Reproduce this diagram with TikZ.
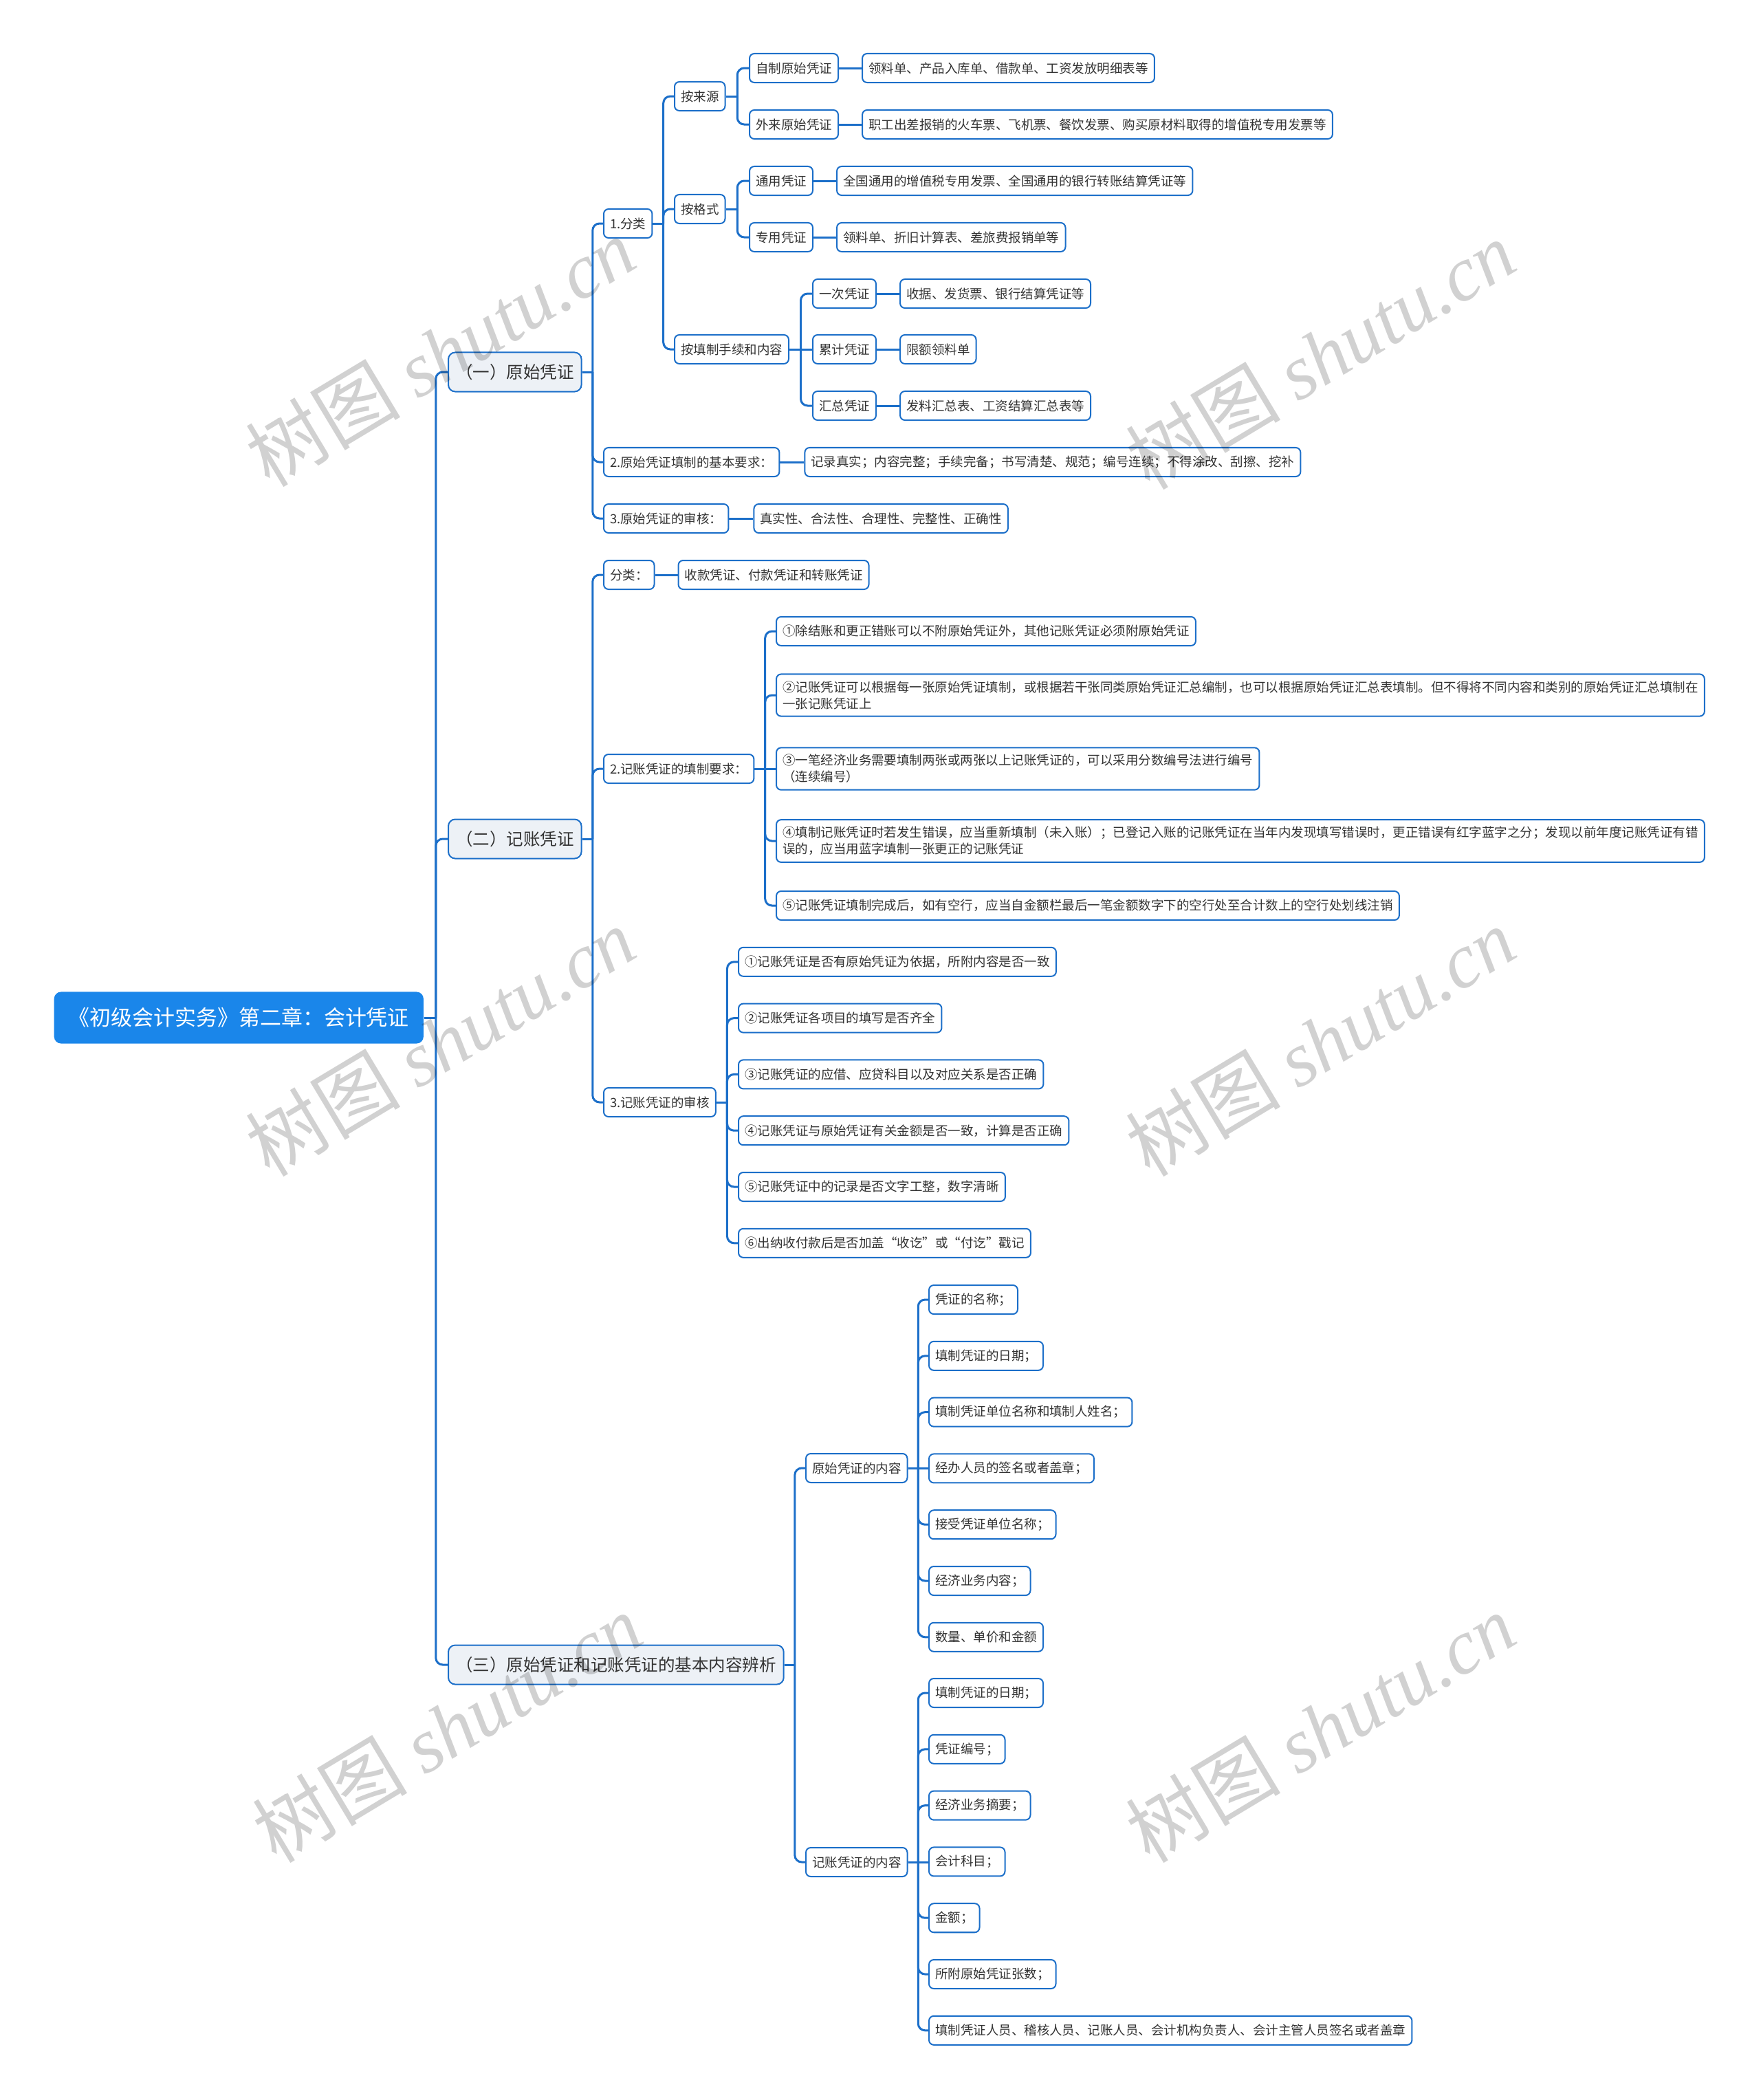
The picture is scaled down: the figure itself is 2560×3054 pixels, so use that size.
\documentclass[tikz,border=0pt]{standalone}
\usepackage{fontspec}
\setmainfont{Noto Sans CJK SC}
\newfontfamily\wmfont{Liberation Serif}
\usepackage{xcolor}
\usepackage{tikz}
\usetikzlibrary{positioning, calc}

\definecolor{lineblue}{HTML}{1C6FC9}
\definecolor{rootblue}{HTML}{1A86EA}
\definecolor{topicgray}{HTML}{EDF1F6}
\definecolor{inkgray}{HTML}{333333}

% elbow connector: parent east -> bus -> child west
\newcommand{\linkto}[2]{%
  \draw[branch, sharp corners] (#1.east) -- ($(#1.east)!.5!(#1.east -| #2.west)$);
  \draw[branch] ($(#1.east)!.5!(#1.east -| #2.west)$) |- (#2.west);}
% straight connector for a child on the parent's level
\newcommand{\leafto}[2]{\draw[branch] (#1.east) -- (#2.west);}

\begin{document}
\begin{tikzpicture}[
    x=0.01cm, y=-0.01cm,
    box/.style={rectangle, rounded corners=0.07cm, draw=lineblue, line width=0.02cm, fill=white, text=inkgray, font=\fontsize{5.26}{6.8}\selectfont, minimum height=0.42cm, inner xsep=0.09cm, inner ysep=0.1cm, align=left, anchor=west},
    topic/.style={box, fill=topicgray, font=\fontsize{6.97}{8.5}\selectfont, minimum height=0.57cm, inner xsep=0.11cm, rounded corners=0.1cm},
    root/.style={rectangle, rounded corners=0.1cm, fill=rootblue, text=white, font=\fontsize{8.8}{10}\selectfont, minimum height=0.75cm, inner xsep=0.21cm, anchor=west},
    branch/.style={draw=lineblue, line width=0.03cm, rounded corners=0.1cm},
    watermark/.style={rotate=31, text=black, opacity=0.18, font=\fontsize{32}{36}\selectfont}
]
\useasboundingbox (0,0) rectangle (2560,3054);

% Root
\node[root] (root) at (78,1480) {《初级会计实务》第二章：会计凭证};

% (一) 原始凭证
\node[topic] (orig) at (651,541) {（一）原始凭证};
\linkto{root}{orig}

\node[box] (cls) at (877,325) {1.分类};
\node[box] (req) at (877,672) {2.原始凭证填制的基本要求：};
\node[box] (aud) at (877,754) {3.原始凭证的审核：};
\linkto{orig}{cls}
\linkto{orig}{req}
\linkto{orig}{aud}

\node[box, right=0.35cm of req] (reqx) {记录真实；内容完整；手续完备；书写清楚、规范；编号连续；不得涂改、刮擦、挖补};
\node[box, right=0.35cm of aud] (audx) {真实性、合法性、合理性、完整性、正确性};
\leafto{req}{reqx}
\leafto{aud}{audx}

\node[box] (src) at (980,140) {按来源};
\node[box] (fmt) at (980,304) {按格式};
\node[box] (proc) at (980,508) {按填制手续和内容};
\linkto{cls}{src}
\linkto{cls}{fmt}
\linkto{cls}{proc}

\node[box] (self) at (1089,99) {自制原始凭证};
\node[box] (ext) at (1089,181) {外来原始凭证};
\node[box] (gen) at (1089,263) {通用凭证};
\node[box] (spec) at (1089,345) {专用凭证};
\node[box] (once) at (1181,427) {一次凭证};
\node[box] (cum) at (1181,508) {累计凭证};
\node[box] (summ) at (1181,590) {汇总凭证};
\linkto{src}{self}
\linkto{src}{ext}
\linkto{fmt}{gen}
\linkto{fmt}{spec}
\linkto{proc}{once}
\leafto{proc}{cum}
\linkto{proc}{summ}

\node[box, right=0.33cm of self] (selfx) {领料单、产品入库单、借款单、工资发放明细表等};
\node[box, right=0.33cm of ext] (extx) {职工出差报销的火车票、飞机票、餐饮发票、购买原材料取得的增值税专用发票等};
\node[box, right=0.33cm of gen] (genx) {全国通用的增值税专用发票、全国通用的银行转账结算凭证等};
\node[box, right=0.33cm of spec] (specx) {领料单、折旧计算表、差旅费报销单等};
\node[box, right=0.33cm of once] (oncex) {收据、发货票、银行结算凭证等};
\node[box, right=0.33cm of cum] (cumx) {限额领料单};
\node[box, right=0.33cm of summ] (summx) {发料汇总表、工资结算汇总表等};
\foreach \n in {self, ext, gen, spec, once, cum, summ} {\leafto{\n}{\n x}}

% (二) 记账凭证
\node[topic] (entry) at (651,1220) {（二）记账凭证};
\linkto{root}{entry}

\node[box] (ecls) at (877,836) {分类：};
\node[box] (ereq) at (877,1118) {2.记账凭证的填制要求：};
\node[box] (eaud) at (877,1603) {3.记账凭证的审核};
\linkto{entry}{ecls}
\linkto{entry}{ereq}
\linkto{entry}{eaud}

\node[box, right=0.33cm of ecls] (eclsx) {收款凭证、付款凭证和转账凭证};
\leafto{ecls}{eclsx}

\node[box] (rq1) at (1128,918) {①除结账和更正错账可以不附原始凭证外，其他记账凭证必须附原始凭证};
\node[box] (rq2) at (1128,1011) {②记账凭证可以根据每一张原始凭证填制，或根据若干张同类原始凭证汇总编制，也可以根据原始凭证汇总表填制。但不得将不同内容和类别的原始凭证汇总填制在\\一张记账凭证上};
\node[box] (rq3) at (1128,1118) {③一笔经济业务需要填制两张或两张以上记账凭证的，可以采用分数编号法进行编号\\（连续编号）};
\node[box] (rq4) at (1128,1223) {④填制记账凭证时若发生错误，应当重新填制（未入账）；已登记入账的记账凭证在当年内发现填写错误时，更正错误有红字蓝字之分；发现以前年度记账凭证有错\\误的，应当用蓝字填制一张更正的记账凭证};
\node[box] (rq5) at (1128,1317) {⑤记账凭证填制完成后，如有空行，应当自金额栏最后一笔金额数字下的空行处至合计数上的空行处划线注销};
\foreach \i in {1,2,4,5} {\linkto{ereq}{rq\i}}
\leafto{ereq}{rq3}

\foreach \t [count=\i] in {①记账凭证是否有原始凭证为依据，所附内容是否一致, ②记账凭证各项目的填写是否齐全, ③记账凭证的应借、应贷科目以及对应关系是否正确, ④记账凭证与原始凭证有关金额是否一致，计算是否正确, ⑤记账凭证中的记录是否文字工整，数字清晰, ⑥出纳收付款后是否加盖“收讫”或“付讫”戳记} {
  \node[box] (ad\i) at (1073,{1317+81.8*\i}) {\t};
  \linkto{eaud}{ad\i}
}

% (三) 基本内容辨析
\node[topic] (cont) at (651,2421) {（三）原始凭证和记账凭证的基本内容辨析};
\linkto{root}{cont}

\node[box] (ocont) at (1171,2135) {原始凭证的内容};
\node[box] (econt) at (1171,2708) {记账凭证的内容};
\linkto{cont}{ocont}
\linkto{cont}{econt}

\foreach \t [count=\i from 0] in {凭证的名称；, 填制凭证的日期；, 填制凭证单位名称和填制人姓名；, 经办人员的签名或者盖章；, 接受凭证单位名称；, 经济业务内容；, 数量、单价和金额} {
  \node[box] (oc\i) at (1350,{1890+81.8*\i}) {\t};
}
\foreach \i in {0,1,2,4,5,6} {\linkto{ocont}{oc\i}}
\draw[branch] (ocont.east) -- (ocont.east -| oc3.west);

\foreach \t [count=\i from 0] in {填制凭证的日期；, 凭证编号；, 经济业务摘要；, 会计科目；, 金额；, 所附原始凭证张数；, 填制凭证人员、稽核人员、记账人员、会计机构负责人、会计主管人员签名或者盖章} {
  \node[box] (ec\i) at (1350,{2462+81.8*\i}) {\t};
}
\foreach \i in {0,1,2,4,5,6} {\linkto{econt}{ec\i}}
\draw[branch] (econt.east) -- (econt.east -| ec3.west);

% Watermarks
\foreach \wx/\wy [count=\k] in {640/512, 1920/516, 640/1515, 1920/1515, 650/2513, 1920/2513}
  \node[watermark] (wm\k) at (\wx,\wy) {树图 {\wmfont\itshape shutu.cn}};

\end{tikzpicture}
\end{document}
